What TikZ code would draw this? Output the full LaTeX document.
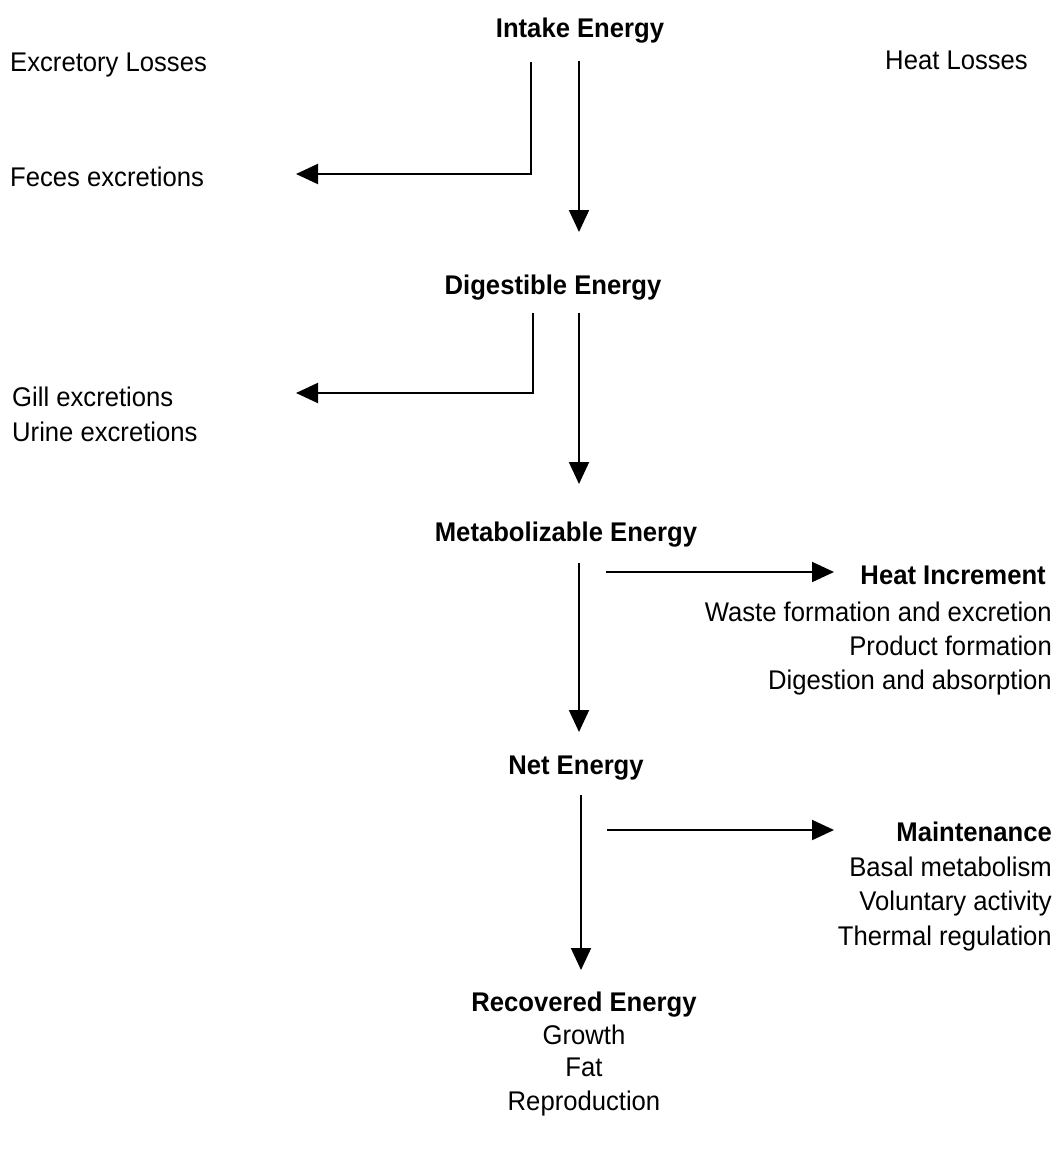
\documentclass[tikz,border=0pt]{standalone}
\usepackage{fontspec}
\setmainfont[FakeStretch=0.95]{Liberation Sans}
\usetikzlibrary{arrows.meta}
\begin{document}
\begin{tikzpicture}[x=1pt,y=-1pt,
  lbl/.style={inner sep=0pt,font=\fontsize{27}{32}\selectfont},
  hdr/.style={lbl,font=\fontsize{27}{32}\selectfont\bfseries},
  ln/.style={line width=2pt},
  arr/.style={ln,-{Triangle[length=22pt,width=20pt]}}]
\useasboundingbox (0,0) rectangle (1061,1151);
% headers
\node[hdr,anchor=base] (intake) at (580,37) {Intake Energy};
\node[lbl,anchor=base west] (excr) at (10,71) {Excretory Losses};
\node[lbl,anchor=base east] (heat) at (1028,69) {Heat Losses};
\node[lbl,anchor=base west] (feces) at (10,186) {Feces excretions};
\node[hdr,anchor=base] (dig) at (553,294) {Digestible Energy};
\node[lbl,anchor=base west] (gill) at (12,406) {Gill excretions};
\node[lbl,anchor=base west] (urine) at (12,441) {Urine excretions};
\node[hdr,anchor=base] (met) at (566,541) {Metabolizable Energy};
\node[hdr,anchor=base east] (hinc) at (1046,584) {Heat Increment};
\node[lbl,anchor=base east] (waste) at (1052,621) {Waste formation and excretion};
\node[lbl,anchor=base east] (prod) at (1052,655) {Product formation};
\node[lbl,anchor=base east] (diga) at (1052,689) {Digestion and absorption};
\node[hdr,anchor=base] (net) at (576,774) {Net Energy};
\node[hdr,anchor=base east] (maint) at (1052,841) {Maintenance};
\node[lbl,anchor=base east] (basal) at (1052,876) {Basal metabolism};
\node[lbl,anchor=base east] (vol) at (1052,910) {Voluntary activity};
\node[lbl,anchor=base east] (therm) at (1052,945) {Thermal regulation};
\node[hdr,anchor=base] (rec) at (584,1011) {Recovered Energy};
\node[lbl,anchor=base] (growth) at (584,1044) {Growth};
\node[lbl,anchor=base] (fat) at (584,1076) {Fat};
\node[lbl,anchor=base] (repro) at (584,1110) {Reproduction};
% connector coordinates
\coordinate (a1) at (531,62);
\coordinate (a2) at (531,174);
\coordinate (a3) at (296,174);
\coordinate (b1) at (579,61);
\coordinate (b2) at (579,232);
\coordinate (c1) at (533,313);
\coordinate (c2) at (533,393);
\coordinate (c3) at (296,393);
\coordinate (d1) at (579,313);
\coordinate (d2) at (579,484);
\coordinate (e1) at (579,563);
\coordinate (e2) at (579,732);
\coordinate (f1) at (606,572);
\coordinate (f2) at (834,572);
\coordinate (g1) at (581,795);
\coordinate (g2) at (581,970);
\coordinate (h1) at (607,830);
\coordinate (h2) at (834,830);
% connectors
\draw[arr] (a1) -- (a2) -- (a3);
\draw[arr] (b1) -- (b2);
\draw[arr] (c1) -- (c2) -- (c3);
\draw[arr] (d1) -- (d2);
\draw[arr] (e1) -- (e2);
\draw[arr] (f1) -- (f2);
\draw[arr] (g1) -- (g2);
\draw[arr] (h1) -- (h2);
\end{tikzpicture}
\end{document}
